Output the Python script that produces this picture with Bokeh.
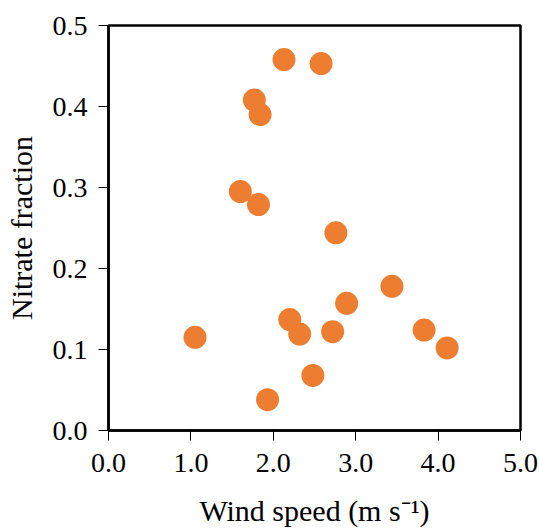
from bokeh.plotting import figure
from bokeh.models import FixedTicker, NumeralTickFormatter, Range1d, ColumnDataSource
from bokeh.embed import file_html
from bokeh.resources import INLINE

wind_speed = [2.13, 2.58, 1.77, 1.84, 1.60, 1.82, 2.76, 3.44, 2.89, 2.20,
              2.32, 2.72, 1.05, 3.83, 4.11, 2.48, 1.93]
nitrate_fraction = [0.458, 0.453, 0.408, 0.390, 0.295, 0.279, 0.244, 0.178, 0.157, 0.137,
                    0.119, 0.122, 0.115, 0.124, 0.102, 0.068, 0.038]
x_ticks = [0, 1, 2, 3, 4, 5]
y_ticks = [0.0, 0.1, 0.2, 0.3, 0.4, 0.5]

FONT = '"Liberation Serif", "Times New Roman", serif'

p = figure(width=539, height=529, output_backend="svg", toolbar_location=None,
           x_range=Range1d(0, 5), y_range=Range1d(0, 0.5),
           min_border_left=108, min_border_right=19, min_border_top=25, min_border_bottom=98)

src = ColumnDataSource(dict(x=wind_speed, y=nitrate_fraction))
p.scatter("x", "y", source=src, size=23, fill_color="#ED7D31", line_color=None)

p.xgrid.visible = False
p.ygrid.visible = False
p.outline_line_color = "black"
p.outline_line_width = 2.5
p.background_fill_color = "white"
p.border_fill_color = "white"

p.xaxis.ticker = FixedTicker(ticks=x_ticks)
p.yaxis.ticker = FixedTicker(ticks=y_ticks)
p.xaxis.formatter = NumeralTickFormatter(format="0.0")
p.yaxis.formatter = NumeralTickFormatter(format="0.0")

for ax in (p.xaxis[0], p.yaxis[0]):
    ax.axis_line_color = "black"
    ax.axis_line_width = 2.5
    ax.major_tick_line_color = "black"
    ax.major_tick_line_width = 1
    ax.major_tick_out = 10
    ax.major_tick_in = 0
    ax.minor_tick_line_color = None
    ax.major_label_text_font = FONT
    ax.major_label_text_font_size = "28px"
    ax.major_label_text_color = "black"
    ax.axis_label_text_font = FONT
    ax.axis_label_text_font_size = "30px"
    ax.axis_label_text_font_style = "normal"
    ax.axis_label_text_color = "black"

p.xaxis.axis_label = "Wind speed (m s\u207b\u00b9)"
p.yaxis.axis_label = "Nitrate fraction"
p.xaxis.major_label_standoff = 13
p.yaxis.major_label_standoff = 11
p.xaxis.axis_label_standoff = 19
p.yaxis.axis_label_standoff = 12

open("out.html", "w").write(file_html(p, INLINE))
